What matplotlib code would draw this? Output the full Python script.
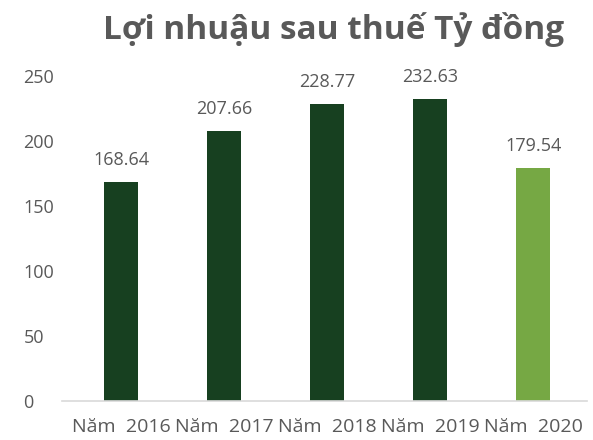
import matplotlib.pyplot as plt

years = ["Năm  2016", "Năm  2017", "Năm  2018", "Năm  2019", "Năm  2020"]
profit = [168.64, 207.66, 228.77, 232.63, 179.54]
colors = ["#174020", "#174020", "#174020", "#174020", "#76a844"]

plt.rcParams['font.family'] = ['Open Sans', 'DejaVu Sans']
gray = "#595959"

fig = plt.figure(figsize=(5.93, 4.4), dpi=100)
ax = fig.add_axes([0.105, 0.089, 0.885, 0.738])

x = range(len(years))
bars = ax.bar(x, profit, width=0.33, color=colors)
for xi, v in zip(x, profit):
    ax.text(xi, v + 10, f"{v:.2f}", ha='center', va='bottom',
            fontsize=13, color=gray, clip_on=False)

ax.set_xlim(-0.57, 4.52)
ax.set_ylim(0, 250)
ax.set_yticks([0, 50, 100, 150, 200, 250])
ax.set_xticks(list(x))
ax.set_xticklabels(years, fontsize=14)
ax.tick_params(axis='both', length=0, labelcolor=gray)
ax.tick_params(axis='y', labelsize=13, pad=28)
ax.tick_params(axis='x', pad=12)
for lbl in ax.get_yticklabels():
    lbl.set_horizontalalignment('left')
for s in ['top', 'right', 'left']:
    ax.spines[s].set_visible(False)
ax.spines['bottom'].set_color('#d9d9d9')
ax.spines['bottom'].set_linewidth(1.2)

fig.text(0.563, 0.932, "Lợi nhuậu sau thuế Tỷ đồng", ha='center', va='center',
         fontsize=24, fontweight='bold', color=gray)

plt.savefig('out.png', dpi=100)
